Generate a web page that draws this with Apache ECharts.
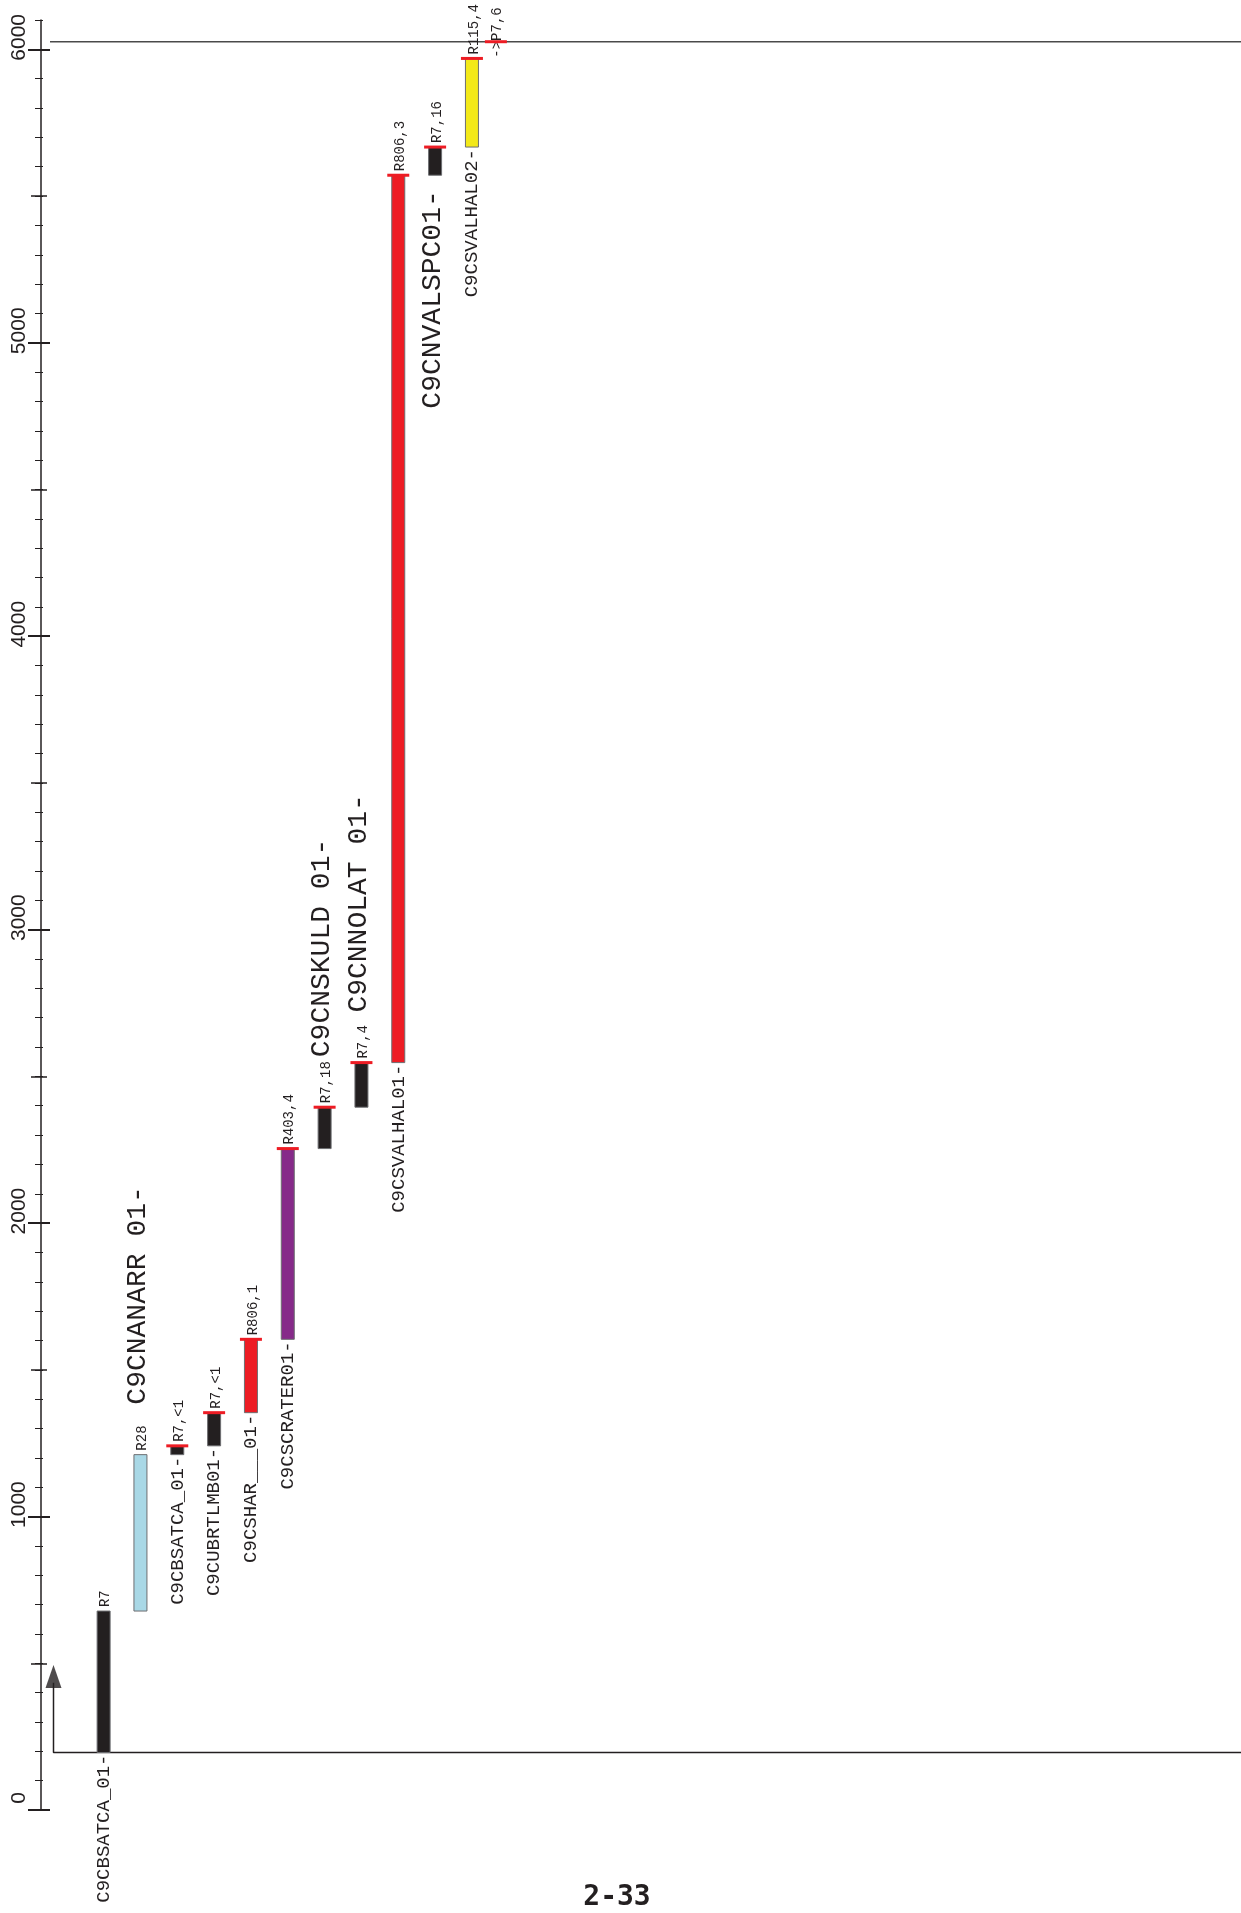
<!DOCTYPE html>
<html>
<head>
<meta charset="utf-8">
<title>2-33</title>
<script src="https://cdn.jsdelivr.net/npm/echarts@6/dist/echarts.min.js"></script>
<style>
  html, body { margin: 0; padding: 0; background: #fff; }
  #chart { width: 1241px; height: 1913px; }
</style>
</head>
<body>
<div id="chart"></div>
<script>
// one entry per column, left to right (depth values)
const codes = ['R7', 'R28', 'R7,<1', 'R7,<1', 'R806,1', 'R403,4', 'R7,18', 'R7,4', 'R806,3', 'R7,16', 'R115,4', 'P7,6'];
const wellNames = ['C9CBSATCA_01-', '', 'C9CBSATCA_01-', 'C9CUBRTLMB01-', 'C9CSHAR___01-', 'C9CSCRATER01-', '', '', 'C9CSVALHAL01-', '', 'C9CSVALHAL02-', ''];
const bigNames = ['', 'C9CNANARR 01-', '', '', '', '', 'C9CNSKULD 01-', 'C9CNNOLAT 01-', '', 'C9CNVALSPC01-', '', ''];
const tops = [678, 1211, 1241, 1354, 1604, 2254, 2395, 2547, 5571, 5667, 5969, 6026];
const bases = [196, 678, 1211, 1241, 1354, 1604, 2254, 2395, 2547, 5571, 5667, 6026];
const columns = [1, 2, 3, 4, 5, 6, 7, 8, 9, 10, 11, 11.65];
const yTicks = [0, 1000, 2000, 3000, 4000, 5000, 6000];
const halfTicks = [500, 1500, 2500, 3500, 4500, 5500];
const topLevel = 6026;
const baseLevel = 196;
const arrowTip = 494;

const fillByCode = {
  R7: '#231f20',
  R28: '#a9d8e6',
  R806: '#ed1c24',
  R403: '#862a89',
  R115: '#f3e919'
};
const X_MIN = -0.7, X_MAX = 31.88;
const PX_PER_X = 1200 / (X_MAX - X_MIN);
const BAR_W = 13, CAP_W = 22;
const MONO = '"Liberation Mono", "Courier New", monospace';
const INK = '#231f20';
const bigBelow = { 9: true }; // this one sits under its bar

function monoText(x, y, text, size, align) {
  return {
    type: 'text',
    x: x,
    y: y,
    rotation: Math.PI / 2,
    style: {
      text: text,
      fontSize: size,
      fontFamily: MONO,
      fill: INK,
      align: align,
      verticalAlign: 'middle'
    }
  };
}

function renderColumn(params, api) {
  const i = params.dataIndex;
  const pTop = api.coord([api.value(0), api.value(1)]);
  const pBase = api.coord([api.value(0), api.value(2)]);
  const cx = pTop[0];
  const right = cx + BAR_W / 2;
  const code = codes[i];
  const children = [];

  if (pBase[1] - pTop[1] > 0.5) {
    children.push({
      type: 'rect',
      shape: { x: cx - BAR_W / 2, y: pTop[1], width: BAR_W, height: pBase[1] - pTop[1] },
      style: { fill: fillByCode[code.split(',')[0]], stroke: '#6d6e71', lineWidth: 1 }
    });
    children.push(monoText(right - 0.33 * 14, pTop[1] - 4, code, 14, 'left'));
  } else {
    // bare marker, label pointed at it from below
    children.push(monoText(right - 0.33 * 14, pTop[1] + 16, '->' + code, 14, 'left'));
  }
  if (code.indexOf(',') > -1) {
    children.push({
      type: 'line',
      shape: { x1: cx - CAP_W / 2, y1: pTop[1], x2: cx + CAP_W / 2, y2: pTop[1] },
      style: { stroke: '#ed1c24', lineWidth: 3 }
    });
  }
  if (wellNames[i]) {
    children.push(monoText(right - 0.33 * 19, pBase[1] + 2, wellNames[i], 19, 'right'));
  }
  if (bigNames[i]) {
    if (bigBelow[i]) {
      children.push(monoText(right - 0.33 * 28, pBase[1] + 15, bigNames[i], 28, 'right'));
    } else {
      children.push(monoText(right - 0.33 * 28, pTop[1] - 50, bigNames[i], 28, 'left'));
    }
  }
  return { type: 'group', children: children };
}

function tickAxis(offset, len, width, custom) {
  return {
    type: 'value',
    min: 0,
    max: 6100,
    interval: 100,
    position: 'left',
    offset: offset,
    axisLine: { show: false, onZero: false },
    axisLabel: { show: false },
    splitLine: { show: false },
    axisTick: {
      show: true,
      length: len,
      customValues: custom,
      lineStyle: { color: INK, width: width }
    }
  };
}

const xLineTop = X_MIN + 9 / PX_PER_X;
const xArrow = X_MIN + 12.5 / PX_PER_X;

const chart = echarts.init(document.getElementById('chart'));
chart.setOption({
  animation: false,
  backgroundColor: '#ffffff',
  grid: { left: 41, right: 0, top: 20, bottom: 103 },
  xAxis: { type: 'value', min: X_MIN, max: X_MAX, show: false },
  yAxis: [
    {
      type: 'value',
      min: 0,
      max: 6100,
      interval: 100,
      position: 'left',
      offset: 0,
      axisLine: { show: true, onZero: false, lineStyle: { color: INK, width: 1.5 } },
      axisTick: { show: false },
      splitLine: { show: false },
      axisLabel: {
        customValues: yTicks,
        formatter: v => String(v),
        rotate: 90,
        margin: 11,
        fontSize: 21,
        fontFamily: '"Liberation Sans", Arial, sans-serif',
        color: INK,
        padding: [0, 0, 0, 24]
      }
    },
    tickAxis(-2, 8, 1),
    tickAxis(-6, 16, 1.5, halfTicks),
    tickAxis(-9, 22, 2, yTicks)
  ],
  series: [
    {
      type: 'line',
      data: [[xLineTop, topLevel], [X_MAX, topLevel]],
      symbol: 'none',
      lineStyle: { color: '#4a4a4a', width: 1.5 },
      z: 1
    },
    {
      type: 'line',
      data: [[xArrow, arrowTip - 60], [xArrow, baseLevel], [X_MAX, baseLevel]],
      symbol: 'none',
      lineStyle: { color: INK, width: 1.5 },
      z: 1
    },
    {
      type: 'scatter',
      data: [[xArrow, arrowTip]],
      symbol: 'triangle',
      symbolSize: [16, 23],
      symbolOffset: [0, '50%'],
      itemStyle: { color: INK },
      z: 2
    },
    {
      type: 'custom',
      renderItem: renderColumn,
      data: columns.map((c, i) => [c, tops[i], bases[i]]),
      encode: { x: 0, y: [1, 2] },
      clip: false,
      z: 3
    }
  ],
  graphic: [
    {
      type: 'text',
      x: 617,
      y: 1912,
      style: {
        text: '2-33',
        fontSize: 28,
        fontWeight: 'bold',
        fontFamily: '"DejaVu Sans Mono", monospace',
        fill: INK,
        align: 'center',
        verticalAlign: 'bottom'
      }
    }
  ]
});
</script>
</body>
</html>
